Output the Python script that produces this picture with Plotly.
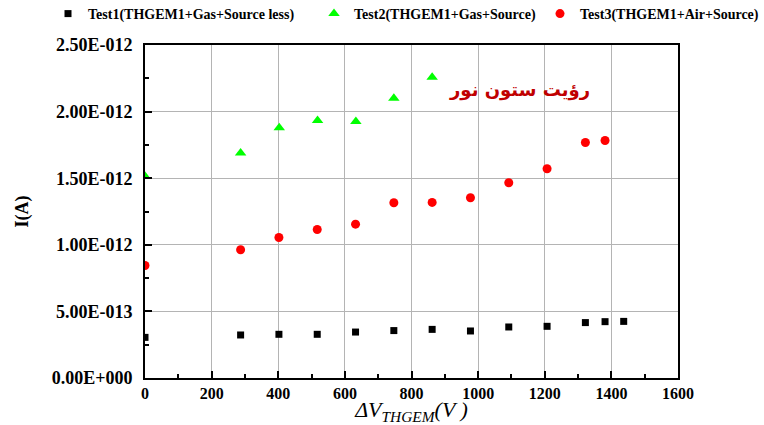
import plotly.graph_objects as go

# ---- data ----
x_test1 = [0, 287, 402, 517, 632, 747, 862, 977, 1092, 1207, 1322, 1381, 1437]
y_test1 = [0.305e-12, 0.323e-12, 0.328e-12, 0.328e-12, 0.345e-12, 0.356e-12, 0.365e-12,
           0.353e-12, 0.383e-12, 0.388e-12, 0.416e-12, 0.423e-12, 0.425e-12]

x_test2 = [0, 287, 403, 518, 633, 747, 862]
y_test2 = [1.515e-12, 1.69e-12, 1.878e-12, 1.933e-12, 1.926e-12, 2.10e-12, 2.258e-12]

x_test3 = [0, 287, 402, 517, 632, 747, 862, 977, 1092, 1207, 1322, 1381]
y_test3 = [0.845e-12, 0.963e-12, 1.055e-12, 1.115e-12, 1.155e-12, 1.316e-12, 1.318e-12,
           1.353e-12, 1.466e-12, 1.571e-12, 1.768e-12, 1.783e-12]

names = ["Test1(THGEM1+Gas+Source less)", "Test2(THGEM1+Gas+Source)", "Test3(THGEM1+Air+Source)"]

y_tickvals = [0, 0.5e-12, 1.0e-12, 1.5e-12, 2.0e-12, 2.5e-12]
y_ticktext = ["0.00E+000", "5.00E-013", "1.00E-012", "1.50E-012", "2.00E-012", "2.50E-012"]
y_minor_vals = [0.25e-12, 0.75e-12, 1.25e-12, 1.75e-12, 2.25e-12]
x_tickvals = [0, 200, 400, 600, 800, 1000, 1200, 1400, 1600]

annotation_text = "رؤیت ستون نور"

serif = "Liberation Serif"

fig = go.Figure()
fig.add_trace(go.Scatter(x=x_test1, y=y_test1, mode="markers", name=names[0],
                         marker=dict(symbol="square", size=7, color="black"), legend="legend"))
fig.add_trace(go.Scatter(x=x_test2, y=y_test2, mode="markers", name=names[1],
                         marker=dict(symbol="triangle-up", size=10, color="#00ff00"), legend="legend2"))
fig.add_trace(go.Scatter(x=x_test3, y=y_test3, mode="markers", name=names[2],
                         marker=dict(symbol="circle", size=9, color="#ff0000"), legend="legend3"))

legfont = dict(family=serif, size=14, color="black", weight="bold")
common_leg = dict(orientation="h", xref="container", yref="container",
                  yanchor="middle", y=1 - 14 / 425, font=legfont, bgcolor="rgba(0,0,0,0)",
                  itemwidth=30, borderwidth=0)

fig.update_layout(
    width=764, height=425,
    margin=dict(l=145, r=86, t=45, b=47, autoexpand=False),
    paper_bgcolor="white", plot_bgcolor="white",
    showlegend=True,
    legend=dict(x=48 / 764, xanchor="left", **common_leg),
    legend2=dict(x=314 / 764, xanchor="left", **common_leg),
    legend3=dict(x=1.0, xanchor="right", **common_leg),
    xaxis=dict(
        range=[0, 1600], tickvals=x_tickvals, ticks="inside", ticklen=7, tickwidth=1.5,
        tickcolor="black", showline=True, linecolor="black", linewidth=2, mirror=True,
        showgrid=True, gridcolor="#b4b4b4", gridwidth=1, zeroline=False, automargin=False,
        tickfont=dict(family=serif, size=16, color="black", weight="bold"),
        minor=dict(dtick=100, ticks="inside", ticklen=4, tickcolor="black", showgrid=False),
        title=dict(text="<i>ΔV<sub>THGEM</sub>(V )</i>", font=dict(family=serif, size=22, color="black"),
                   standoff=0),
    ),
    yaxis=dict(
        range=[0, 2.5e-12], tickvals=y_tickvals, ticktext=y_ticktext, ticks="inside", ticklen=7,
        tickwidth=1.5, tickcolor="black", showline=True, linecolor="black", linewidth=2, mirror=True,
        showgrid=True, gridcolor="#b4b4b4", gridwidth=1, zeroline=False, automargin=False,
        ticklabelstandoff=7,
        tickfont=dict(family=serif, size=18, color="black", weight="bold"),
        minor=dict(tickvals=y_minor_vals, ticks="inside", ticklen=4, tickcolor="black", showgrid=False),
        title=dict(text="I(A)", font=dict(family=serif, size=18, color="black", weight="bold"),
                   standoff=18),
    ),
    annotations=[dict(text=annotation_text, x=1125, y=2.16e-12, xref="x", yref="y", showarrow=False,
                      font=dict(family="DejaVu Sans", size=18, color="#c00000", weight="bold"))],
)

fig.write_html("out.html", config={"displayModeBar": False},
               post_script="document.body.style.margin='0px';")
